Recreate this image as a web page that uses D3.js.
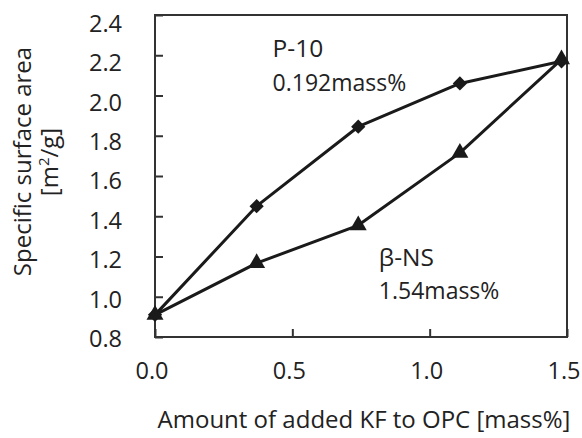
<!DOCTYPE html>
<html>
<head>
<meta charset="utf-8">
<script src="https://cdn.jsdelivr.net/npm/d3@7"></script>
<style>
  html, body { margin: 0; padding: 0; background: #fff; }
  svg { display: block; }
  text { font-family: "Open Sans", sans-serif; fill: #222; font-variant-ligatures: none; }
</style>
</head>
<body>
<script>
// ---- data ----
const xValues = [0.0, 0.37, 0.74, 1.11, 1.48];
const p10Values = [0.91, 1.45, 1.845, 2.06, 2.17];
const bnsValues = [0.91, 1.167, 1.355, 1.715, 2.18];
const xTicks = [0.0, 0.5, 1.0, 1.5];
const yTicks = [0.8, 1.0, 1.2, 1.4, 1.6, 1.8, 2.0, 2.2, 2.4];
const seriesNames = ["P-10", "β-NS"];
const seriesNotes = ["0.192mass%", "1.54mass%"];
const xTitle = "Amount of added KF to OPC [mass%]";
const yTitle1 = "Specific surface area";

// ---- layout ----
const W = 582, H = 438;
const m = { left: 155, right: 15, top: 15, bottom: 101 };
const svg = d3.select("body").append("svg").attr("width", W).attr("height", H);

const x = d3.scaleLinear().domain([0, 1.5]).range([m.left, W - m.right]);
const y = d3.scaleLinear().domain([0.8, 2.4]).range([H - m.bottom, m.top]);

const ink = "#1a1a1a";

// frame
svg.append("rect")
  .attr("x", x(0)).attr("y", y(2.4))
  .attr("width", x(1.5) - x(0)).attr("height", y(0.8) - y(2.4))
  .attr("fill", "none").attr("stroke", "#333").attr("stroke-width", 2);

// y axis (inward ticks)
const yAxis = d3.axisLeft(y).tickValues(yTicks).tickSize(-8).tickPadding(40)
  .tickFormat(d3.format(".1f"));
const gy = svg.append("g").attr("transform", `translate(${x(0)},0)`).call(yAxis);
gy.select(".domain").remove();
gy.selectAll(".tick line").attr("stroke", "#333").attr("stroke-width", 2);
gy.selectAll(".tick text")
  .attr("x", -33).attr("dy", "0.36em")
  .attr("transform", d => `translate(0,${1 + (d - 0.8) / 1.6 * 7})`)
  .style("font-size", "23.5px").attr("fill", "#222");

// x axis (inward ticks)
const xAxis = d3.axisBottom(x).tickValues(xTicks).tickSize(-8).tickPadding(25)
  .tickFormat(d3.format(".1f"));
const gx = svg.append("g").attr("transform", `translate(0,${y(0.8)})`).call(xAxis);
gx.select(".domain").remove();
gx.selectAll(".tick line").attr("stroke", "#333").attr("stroke-width", 2);
gx.selectAll(".tick text").attr("dx", -3.5).style("font-size", "23.5px").attr("fill", "#222");

// axis titles
svg.append("text").attr("x", 364).attr("y", 428)
  .attr("text-anchor", "middle").style("font-size", "24px").text(xTitle);

svg.append("text").attr("transform", "translate(30.5,161.5) rotate(-90)")
  .attr("text-anchor", "middle").style("font-size", "24px").text(yTitle1);
const yt2 = svg.append("text").attr("transform", "translate(58,162) rotate(-90)")
  .attr("text-anchor", "middle").style("font-size", "24px");
yt2.append("tspan").text("[m");
yt2.append("tspan").attr("dy", -9).style("font-size", "15px").text("2");
yt2.append("tspan").attr("dy", 9).text("/g]");

// lines
const line = d3.line().x((d, i) => x(xValues[i])).y(d => y(d));
[p10Values, bnsValues].forEach(vals => {
  svg.append("path").datum(vals).attr("d", line)
    .attr("fill", "none").attr("stroke", ink).attr("stroke-width", 3)
    .attr("stroke-linejoin", "round");
});

// markers
const diamond = d3.symbol().type(d3.symbolDiamond2).size(130);
svg.append("g").selectAll("path").data(p10Values).join("path")
  .attr("d", diamond)
  .attr("transform", (d, i) => `translate(${x(xValues[i])},${y(d)})`)
  .attr("fill", ink);

const tri = d3.symbol().type(d3.symbolTriangle).size(125);
svg.append("g").selectAll("path").data(bnsValues).join("path")
  .attr("d", tri)
  .attr("transform", (d, i) => `translate(${x(xValues[i])},${y(d)})`)
  .attr("fill", ink);

// series labels
const labelPos = [[0.428, 2.19], [0.815, 1.155]];
seriesNames.forEach((n, i) => {
  const [lx, ly] = labelPos[i];
  svg.append("text").attr("x", x(lx)).attr("y", y(ly))
    .style("font-size", "24.5px").text(n);
  svg.append("text").attr("x", x(lx)).attr("y", y(ly) + 33.5)
    .style("font-size", "23px").text(seriesNotes[i]);
});
</script>
</body>
</html>
